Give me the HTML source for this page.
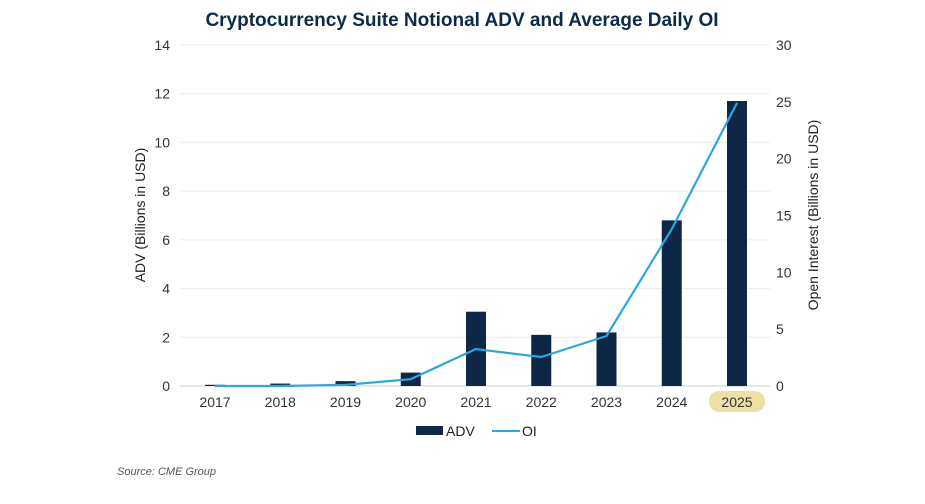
<!DOCTYPE html>
<html><head><meta charset="utf-8"><style>
body{margin:0;background:#fff;width:925px;height:499px;overflow:hidden;font-family:"Liberation Sans",sans-serif;}
</style></head><body>
<svg id="chart" width="925" height="499">
<text x="462" y="26" text-anchor="middle" font-size="19" font-weight="bold" fill="#0d2a4a">Cryptocurrency Suite Notional ADV and Average Daily OI</text>
<g id="grid"></g><g id="bars"></g><g id="line"></g><g id="axes"></g>
<text transform="translate(145,215) rotate(-90)" text-anchor="middle" font-size="14" fill="#222">ADV (Billions in USD)</text>
<text transform="translate(818,215) rotate(-90)" text-anchor="middle" font-size="14" fill="#222">Open Interest (Billions in USD)</text>
<g>
<rect x="416" y="426" width="27" height="9" fill="#0e2747"/>
<text x="446" y="436" font-size="14" fill="#222">ADV</text>
<line x1="492" y1="431" x2="520" y2="431" stroke="#2aa7e0" stroke-width="2"/>
<text x="522" y="436" font-size="14" fill="#222">OI</text>
</g>
<text x="117" y="475" font-size="11" font-style="italic" fill="#555">Source: CME Group</text>
</svg>
<script>
const categories=["2017","2018","2019","2020","2021","2022","2023","2024","2025"];
const advValues=[0.05,0.1,0.2,0.55,3.05,2.1,2.2,6.8,11.7];
const oiValues=[0,0,0.1,0.6,3.25,2.55,4.4,13.8,24.9];
const leftTicks=[0,2,4,6,8,10,12,14];
const rightTicks=[0,5,10,15,20,25,30];
const NS="http://www.w3.org/2000/svg";
const x0=215,step=65.25,yB=386,yT=45;
const xS=i=>x0+i*step;
const yL=v=>yB-(v/14)*(yB-yT);
const yR=v=>yB-(v/30)*(yB-yT);
function mk(t,a,p){const e=document.createElementNS(NS,t);for(const k in a)e.setAttribute(k,a[k]);p.appendChild(e);return e;}
const g=document.getElementById('grid'),ax=document.getElementById('axes'),b=document.getElementById('bars'),l=document.getElementById('line');
leftTicks.forEach(v=>{const ln=mk('line',{x1:180,x2:770,y1:yL(v),y2:yL(v),stroke:v==0?'#ccc':'#ececec','stroke-width':1},g);


const t=mk('text',{x:170,y:yL(v)+5,'text-anchor':'end','font-size':14,fill:'#333'},ax);t.textContent=v;

});
rightTicks.forEach(v=>{const t=mk('text',{x:776,y:yR(v)+5,'font-size':14,fill:'#333'},ax);t.textContent=v;

});
categories.forEach((c,i)=>{
if(c==="2025"){const h=mk('rect',{x:xS(i)-28,y:391,width:56,height:21,rx:10,fill:'#ede0a6'},ax);

}
const t=mk('text',{x:xS(i),y:407,'text-anchor':'middle','font-size':14,fill:'#333'},ax);t.textContent=c;


const r=mk('rect',{x:xS(i)-10,y:yL(advValues[i]),width:20,height:yB-yL(advValues[i]),fill:'#0e2747'},b);

});
const p=mk('polyline',{points:oiValues.map((v,i)=>xS(i)+','+yR(v)).join(' '),fill:'none',stroke:'#2aa7e0','stroke-width':2.2,'stroke-linejoin':'round'},l);


</script>
</body></html>
